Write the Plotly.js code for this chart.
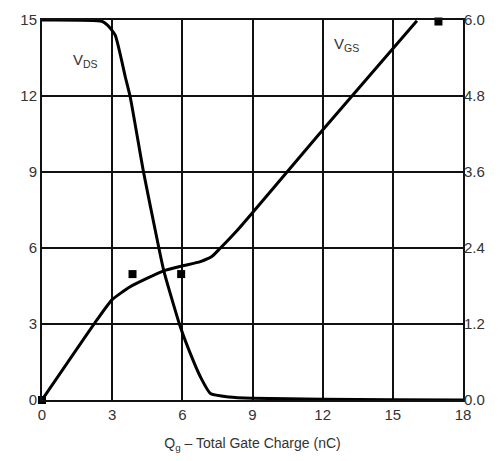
<!DOCTYPE html>
<html><head><meta charset="utf-8">
<script src="https://cdn.plot.ly/plotly-3.0.1.min.js"></script>
<style>html,body{margin:0;padding:0;background:#fff;}</style>
</head><body><div id="chart" style="width:503px;height:461px;"></div>
<script>
const vdsQ = [0, 2.56, 2.8, 3.13, 3.56, 3.77, 4.34, 4.84, 5.2, 5.91, 6.4, 6.77, 7.2, 8.0, 9.0, 12, 15, 18];
const vdsV = [15, 14.95, 14.8, 14.4, 12.76, 11.97, 9.0, 6.71, 5.13, 2.9, 1.7, 0.92, 0.26, 0.12, 0.07, 0.03, 0.01, 0];
const vgsQ = [0, 2.35, 2.99, 3.77, 5.2, 5.98, 6.77, 7.26, 7.62, 8.4, 12.0, 16.03];
const vgsV = [0, 3.16, 3.95, 4.47, 5.1, 5.29, 5.46, 5.66, 5.99, 6.75, 10.66, 14.97];
const markQ = [0, 3.87, 5.95, 16.95];
const markV = [0, 4.97, 4.97, 14.94];
const xTicks = [0, 3, 6, 9, 12, 15, 18];
const yTicks = [0, 3, 6, 9, 12, 15];
const y2Ticks = [0, 1.2, 2.4, 3.6, 4.8, 6.0];
const y2Labels = ["0.0", "1.2", "2.4", "3.6", "4.8", "6.0"];

const font = {family: "Liberation Sans, Arial, sans-serif", size: 15, color: "#333"};
const traces = [
  {x: vdsQ, y: vdsV, mode: "lines", line: {color: "#000", width: 3, shape: "spline", smoothing: 0.5}, hoverinfo: "skip"},
  {x: vgsQ, y: vgsV, mode: "lines", line: {color: "#000", width: 3, shape: "spline", smoothing: 0.5}, hoverinfo: "skip"},
  {x: markQ, y: markV, mode: "markers", marker: {symbol: "square", size: 8, color: "#000"}, cliponaxis: false, hoverinfo: "skip"},
  {x: [0], y: [0], yaxis: "y2", mode: "markers", marker: {opacity: 0}, hoverinfo: "skip"}
];
const layout = {
  width: 503, height: 461,
  margin: {l: 42, r: 40, t: 20, b: 61},
  paper_bgcolor: "#fff", plot_bgcolor: "#fff",
  showlegend: false,
  font: font,
  xaxis: {range: [0, 18], tickvals: xTicks, ticktext: xTicks.map(String), showgrid: true, gridcolor: "#111", gridwidth: 2,
    zeroline: false, showline: true, linecolor: "#111", linewidth: 2, mirror: true, ticks: "", ticklen: 0,
    title: {text: "Q<sub>g</sub> – Total Gate Charge (nC)", font: {family: font.family, size: 14, color: "#333"}, standoff: 16}, fixedrange: true},
  yaxis: {range: [0, 15], tickvals: yTicks, ticktext: yTicks.map(String), showgrid: true, gridcolor: "#111", gridwidth: 2,
    zeroline: false, showline: true, linecolor: "#111", linewidth: 2, mirror: true, ticks: "", fixedrange: true},
  yaxis2: {range: [0, 6], overlaying: "y", side: "right", tickvals: y2Ticks, ticktext: y2Labels, showgrid: false,
    zeroline: false, showline: false, ticks: "", fixedrange: true},
  annotations: [
    {x: 1.85, y: 13.4, xref: "x", yref: "y", text: "V<sub>DS</sub>", showarrow: false, font: font},
    {x: 13.0, y: 14.05, xref: "x", yref: "y", text: "V<sub>GS</sub>", showarrow: false, font: font}
  ]
};
Plotly.newPlot("chart", traces, layout, {displayModeBar: false, staticPlot: true});
</script></body></html>
